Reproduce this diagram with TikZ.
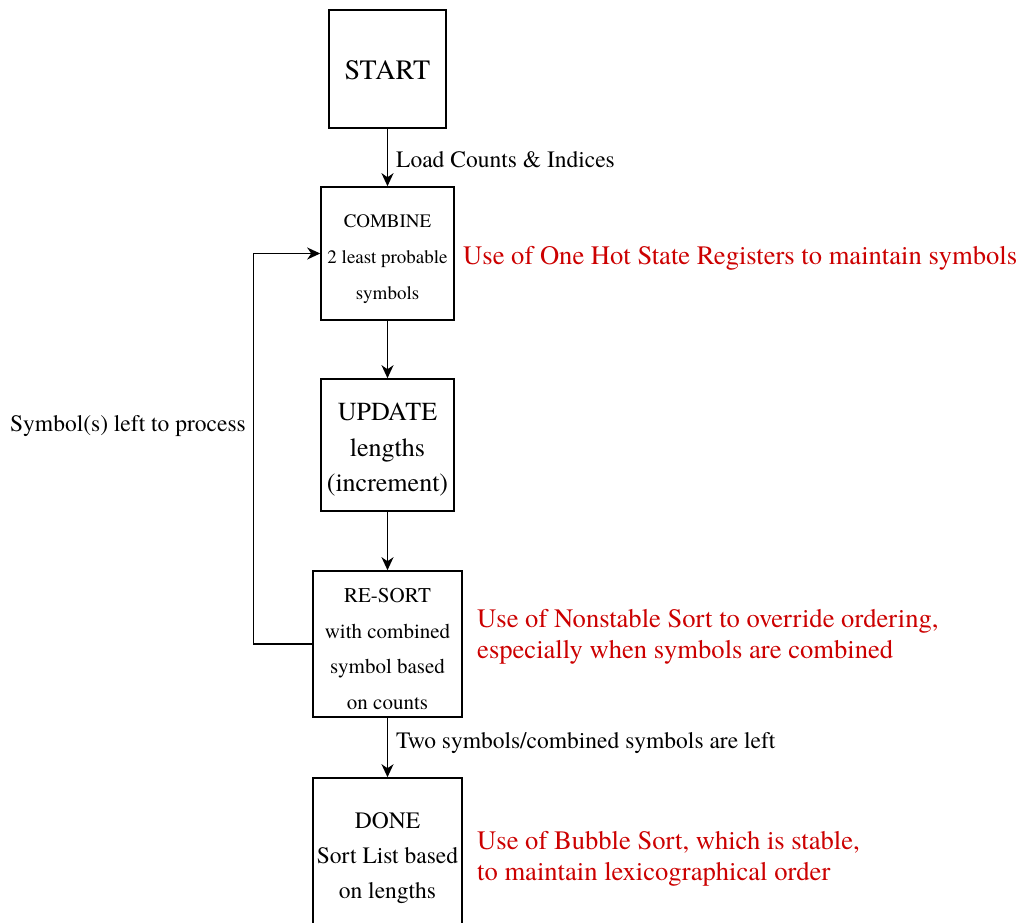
\documentclass[tikz,border=0pt]{standalone}
\usepackage{fontspec}
\setmainfont{texgyretermes}[Extension=.otf,UprightFont=*-regular,BoldFont=*-bold,ItalicFont=*-italic,BoldItalicFont=*-bolditalic]
\usetikzlibrary{arrows.meta}
\definecolor{notered}{RGB}{204,0,0}
\begin{document}
\begin{tikzpicture}[x=1pt,y=-1pt,
  box/.style={draw,line width=1.6pt,inner sep=0pt,anchor=center},
  txt/.style={inner sep=0pt,align=center},
  conn/.style={line width=1.4pt,-{Stealth[length=13pt,width=12pt,inset=4pt]}},
  lbl/.style={font=\fontsize{23.5}{28}\selectfont,inner sep=0pt},
  note/.style={text=notered,inner sep=0pt,align=left,font=\fontsize{26.6}{30.5}\selectfont}]
\clip (0,0) rectangle (1023,923);
\fill[white] (0,0) rectangle (1023,923);
\node[box,minimum width=117pt,minimum height=118pt,
  label={[txt,yshift=-1pt,font=\fontsize{28}{32}\selectfont]center:START}] (start) at (387.5,69) {};
\node[box,minimum width=133pt,minimum height=133pt,
  label={[txt,yshift=-6pt,font=\fontsize{19}{36}\selectfont]center:{COMBINE\\2 least probable\\symbols}}] (combine) at (387.5,253.5) {};
\node[box,minimum width=133pt,minimum height=132pt,
  label={[txt,yshift=-5pt,font=\fontsize{26}{35.5}\selectfont]center:{UPDATE\\lengths\\(increment)}}] (update) at (387.5,445) {};
\node[box,minimum width=149pt,minimum height=146pt,
  label={[txt,yshift=-5pt,font=\fontsize{21}{35.7}\selectfont]center:{RE-SORT\\with combined\\symbol based\\on counts}}] (resort) at (387.5,644) {};
\node[box,minimum width=149pt,minimum height=154pt,
  label={[txt,yshift=-3pt,font=\fontsize{23.5}{35}\selectfont]center:{DONE\\Sort List based\\on lengths}}] (done) at (387.5,855) {};

\draw[conn] (start) -- (combine) node[pos=0.5,right=8pt,yshift=-2pt,lbl] (l1) {Load Counts \& Indices};
\draw[conn] (combine) -- (update);
\draw[conn] (update) -- (resort);
\draw[conn] (resort) -- (done) node[pos=0.45,right=8pt,yshift=1pt,lbl] (l2) {Two symbols/combined symbols are left};
\draw[conn] (resort.west) -- ++(-59,0) coordinate (lc) |- (combine.west);
\node[lbl,anchor=east] (l3) at (246,426) {Symbol(s) left to process};

\node[note,anchor=west] (n1) at (463,258) {Use of One Hot State Registers to maintain symbols};
\node[note,anchor=west] (n2) at (477,637) {Use of Nonstable Sort to override ordering,\\especially when symbols are combined};
\node[note,anchor=west] (n3) at (477,859) {Use of Bubble Sort, which is stable,\\to maintain lexicographical order};
\end{tikzpicture}
\end{document}
